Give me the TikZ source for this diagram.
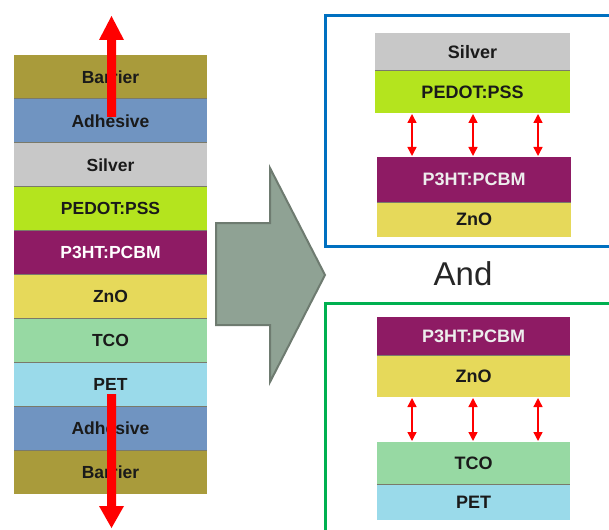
\documentclass[tikz,border=0pt]{standalone}
\usepackage{fontspec}
\setmainfont{Liberation Sans}
\usetikzlibrary{arrows.meta}
\definecolor{cBarrier}{HTML}{A99B3B}
\definecolor{cAdh}{HTML}{7094C1}
\definecolor{cSilver}{HTML}{C8C8C8}
\definecolor{cPedot}{HTML}{B4E41E}
\definecolor{cP3ht}{HTML}{8E1B64}
\definecolor{cZno}{HTML}{E6D95A}
\definecolor{cTco}{HTML}{97D9A3}
\definecolor{cPet}{HTML}{9ADAEA}
\definecolor{cTxt}{HTML}{1A1A1A}
\definecolor{cSep}{HTML}{7A7A6A}
\definecolor{cBlue}{HTML}{0070C0}
\definecolor{cGreen}{HTML}{00B050}
\definecolor{cArrow}{HTML}{8FA294}
\definecolor{cArrowEdge}{HTML}{6E7B70}
\tikzset{
  layer/.style={anchor=north west, inner sep=0pt, outer sep=0pt,
    font=\fontsize{17.5}{20}\selectfont\bfseries, text=cTxt},
  rlayer/.style={layer, font=\fontsize{18}{21}\selectfont\bfseries},
  sep/.style={draw=cSep, line width=1pt},
  smallarr/.style={draw=red, line width=1.4pt, {Triangle[width=9pt,length=9pt]}-{Triangle[width=9pt,length=9pt]}, shorten <=1pt, shorten >=1pt},
  bigred/.style={fill=red, draw=none},
}
\begin{document}
\begin{tikzpicture}[x=1pt,y=-1pt]
\useasboundingbox (0,0) rectangle (609,529);
% left stack
\foreach \name/\col/\lab/\tc [count=\i from 0] in {
  lb1/cBarrier/Barrier/cTxt, la1/cAdh/Adhesive/cTxt, ls/cSilver/Silver/cTxt,
  lp/cPedot/PEDOT:PSS/cTxt, lh/cP3ht/P3HT:PCBM/white, lz/cZno/ZnO/cTxt,
  lt/cTco/TCO/cTxt, le/cPet/PET/cTxt, la2/cAdh/Adhesive/cTxt, lb2/cBarrier/Barrier/cTxt}{
  \node[layer, fill=\col, minimum width=193pt, minimum height=43.9pt, text=\tc]
    (\name) at (14,{55+43.9*\i}) {\lab};
}
\foreach \y in {1,...,9}{
  \draw[sep] (14,{55+43.9*\y}) -- (207,{55+43.9*\y});
}
% big red arrows
\fill[bigred] (107,117) -- (107,40) -- (99,40) -- (111.5,16) -- (124,40) -- (116,40) -- (116,117) -- cycle;
\fill[bigred] (107,394) -- (107,506) -- (99,506) -- (111.5,528) -- (124,506) -- (116,506) -- (116,394) -- cycle;
% gray block arrow
\draw[fill=cArrow, draw=cArrowEdge, line width=2pt, line join=miter]
  (216,223) -- (270,223) -- (270,168) -- (325,275) -- (270,382) -- (270,325) -- (216,325) -- cycle;
% blue box
\draw[cBlue, line width=3pt] (640,16) -- (325.5,16) -- (325.5,246.5) -- (640,246.5);
\node[rlayer, fill=cSilver, minimum width=195pt, minimum height=38pt] (bs) at (375,33) {Silver};
\node[rlayer, fill=cPedot, minimum width=195pt, minimum height=42pt] (bp) at (375,71) {PEDOT:PSS};
\draw[sep] (375,71) -- (570,71);
\node[rlayer, fill=cP3ht, minimum width=194pt, minimum height=45pt, text=white!93!black] (bh) at (377,157) {P3HT:PCBM};
\node[rlayer, fill=cZno, minimum width=194pt, minimum height=35pt] (bz) at (377,202) {ZnO};
\draw[sep] (377,202) -- (571,202);
\foreach \x in {412,473,538}{
  \draw[smallarr] (\x,113) -- (\x,157);
}
% And
\node[font=\fontsize{33}{38}\selectfont, text=black!85] (and) at (463,274) {And};
% green box
\draw[cGreen, line width=3pt] (640,303.5) -- (325.5,303.5) -- (325.5,540);
\node[rlayer, fill=cP3ht, minimum width=193pt, minimum height=38pt, text=white!93!black] (gh) at (377,317) {P3HT:PCBM};
\node[rlayer, fill=cZno, minimum width=193pt, minimum height=42pt] (gz) at (377,355) {ZnO};
\draw[sep] (377,355) -- (570,355);
\node[rlayer, fill=cTco, minimum width=193pt, minimum height=42pt] (gt) at (377,442) {TCO};
\node[rlayer, fill=cPet, minimum width=193pt, minimum height=36pt] (ge) at (377,484) {PET};
\draw[sep] (377,484) -- (570,484);
\foreach \x in {412,473,538}{
  \draw[smallarr] (\x,397) -- (\x,442);
}
\end{tikzpicture}
\end{document}
